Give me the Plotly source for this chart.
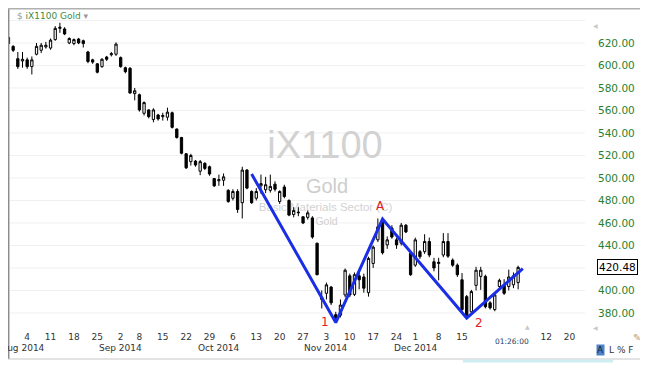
import pandas as pd
import plotly.graph_objects as go

# ---------------- data ----------------
HOLIDAYS = ["2014-09-01", "2014-11-27", "2014-12-25", "2015-01-01", "2015-01-19"]
SESSIONS = [d.strftime("%Y-%m-%d") for d in pd.bdate_range("2014-07-28", "2015-01-23")
            if d.strftime("%Y-%m-%d") not in HOLIDAYS]
FIRST_BAR = "2014-07-29"

OPEN = [625, 617, 606, 604, 605, 599, 610, 613.5, 616.5, 615.5,
        623, 633, 632.5, 620, 619.5, 623.5, 622, 612, 605, 601.5,
        599, 607.5, 609.5, 610, 607, 598, 597.5, 575, 574, 557.5,
        560.5, 552, 556, 554.5, 554, 558, 543.5, 536, 521.5, 514.5,
        515, 506, 513, 510, 499.5, 497.5, 498, 489, 482, 488,
        478, 507, 488, 482, 493, 489.5, 489, 494.5, 479, 492,
        480, 467.5, 469, 465.5, 465, 464.5, 442, 392, 397.5, 403,
        378.5, 378, 396, 413, 396.5, 413, 412, 398, 424, 445,
        461, 440.5, 455.5, 445, 442, 458, 433, 422.5, 434.5, 434.5,
        443.5, 425.5, 424, 431.5, 443.5, 427, 422.5, 409.5, 394.5, 381,
        404.5, 412.5, 412.5, 389, 383, 403.5, 405, 403.5, 405, 407]
HIGH = [627, 618, 612, 612, 607, 608, 620, 620, 621, 624,
        635, 638, 634, 625, 624, 624.5, 623, 613, 606, 602,
        606.5, 608.5, 612, 620.5, 608, 599, 598.5, 580, 575, 568,
        561, 562, 557, 558, 562.5, 559, 544, 536.5, 522, 521.5,
        516, 516, 514, 511, 500, 503, 504, 490, 490, 490,
        510, 508, 489, 491, 503, 501, 503, 497, 489, 494,
        481, 474, 474, 466, 471, 466, 442.5, 400, 407, 404,
        381, 392, 419.5, 415, 416, 417, 415, 430, 440, 464,
        463, 448, 458, 447, 460, 459, 434, 447, 436, 450,
        447, 429, 429, 451, 451, 428.5, 424, 415.5, 396, 400.5,
        421, 421, 414, 390.5, 397.5, 410.5, 410, 418.5, 416, 422]
LOW = [618, 612, 597, 598, 597, 592, 609, 611, 615, 614,
       622, 629, 627, 619, 618, 619, 616, 602, 601.5, 593,
       598, 604, 608, 608.5, 598, 593, 575, 569, 559, 555.5,
       553, 549.5, 551, 551, 551, 544, 535, 521, 508, 511,
       510, 502.5, 507, 502, 492, 493, 493, 478, 480, 469,
       464, 490, 477, 480, 486, 486.5, 487, 488, 477, 482,
       466, 465, 466, 459, 463, 446, 413.5, 384, 392, 387,
       373.5, 376, 394, 394, 395, 401, 398, 394.5, 420, 443,
       432, 437, 446, 437, 440, 451, 413, 421, 428, 432.5,
       429.5, 417, 409, 429.5, 429, 421, 412, 381.5, 375, 379,
       400, 400.5, 384, 383, 381.5, 402, 396, 400, 402, 401]
CLOSE = [619.5, 613.5, 599, 605.5, 599, 605, 617, 618, 618, 622.5,
         633, 634, 628, 624, 623, 620, 619.5, 603.5, 603, 594,
         605.5, 605.5, 610.5, 619, 599, 594.5, 575.5, 577.5, 560.5, 567,
         554.5, 560.5, 552.5, 555.5, 558.5, 545, 536, 522, 509, 520,
         511.5, 514.5, 508.5, 503.5, 493, 498.5, 501, 479, 488, 472,
         507, 491, 478, 488, 495, 494, 492.5, 490, 488, 483.5,
         467, 471, 469.5, 460, 469, 447.5, 414, 394, 405, 389,
         375.5, 387, 418, 396, 414, 409.5, 402, 428.5, 438.5, 456.5,
         433.5, 445, 447.5, 440.5, 458, 452, 414, 445, 430, 443.5,
         431.5, 420, 425, 443.5, 430.5, 422.5, 414, 383, 377, 399,
         418, 418, 385.5, 384.5, 396, 409, 397.5, 412, 413, 420.48]
LAST_PRICE = 420.48

TICK_DATES = ["2014-08-04", "2014-08-11", "2014-08-18", "2014-08-25", "2014-09-02",
              "2014-09-08", "2014-09-15", "2014-09-22", "2014-09-29", "2014-10-06",
              "2014-10-13", "2014-10-20", "2014-10-27", "2014-11-03", "2014-11-10",
              "2014-11-17", "2014-11-24", "2014-12-01", "2014-12-08", "2014-12-15",
              "2015-01-12", "2015-01-20"]
TICK_TEXT = ["4", "11", "18", "25", "2", "8", "15", "22", "29", "6", "13", "20", "27",
             "3", "10", "17", "24", "1", "8", "15", "12", "20"]
MONTH_DATES = ["2014-08-01", "2014-09-02", "2014-10-01", "2014-11-03", "2014-12-01"]
MONTH_TEXT = ["Aug 2014", "Sep 2014", "Oct 2014", "Nov 2014", "Dec 2014"]

ZIG_DATES = ["2014-10-10", "2014-11-05", "2014-11-19", "2014-12-16", "2015-01-05"]
ZIG_PRICES = [503.5, 371.5, 463.5, 375.5, 419.5]
ZIG_LABELS = ["", "1", "A", "2", ""]

Y_TICKS = [380, 400, 440, 460, 480, 500, 520, 540, 560, 580, 600, 620]
Y_GRID = [380, 400, 420, 440, 460, 480, 500, 520, 540, 560, 580, 600, 620, 640]

WATERMARK = ["iX1100", "Gold", "Basic Materials Sector (C)", "Gold"]

# ---------------- helpers ----------------
def pos(d):
    return SESSIONS.index(d)

start = pos(FIRST_BAR)
bar_x = list(range(start, start + len(OPEN)))

# the page body has an 8px margin, so the figure starts at page (8, 8)
OFF = 8
W, H = 640, 364
PLOT_L, PLOT_R, PLOT_T, PLOT_B = 8, 585, 8, 326      # page pixels of the plot area
ML, MR, MT, MB = PLOT_L - OFF, OFF + W - PLOT_R, PLOT_T - OFF, OFF + H - PLOT_B
PW, PH = PLOT_R - PLOT_L, PLOT_B - PLOT_T


def px(p):
    return (p - PLOT_L) / PW


def py(p):
    return (PLOT_B - p) / PH


FONT = "DejaVu Sans"

fig = go.Figure()

# watermark (base subplot, drawn beneath the candles)
fig.add_trace(go.Scatter(
    x=[px(325), px(327), px(325.5), px(326.5)],
    y=[py(148), py(188), py(208), py(222.5)],
    mode="text", text=WATERMARK, textposition="middle center",
    textfont=dict(family="Liberation Sans", size=[38, 20, 11.5, 10.5],
                  color=["#d2d2d2", "#cdcdcd", "#d2d2d2", "#d0d0d0"]),
    hoverinfo="skip", showlegend=False, xaxis="x", yaxis="y"))

# candles
fig.add_trace(go.Candlestick(
    x=bar_x, open=OPEN, high=HIGH, low=LOW, close=CLOSE,
    increasing=dict(line=dict(color="#000000", width=1), fillcolor="#ffffff"),
    decreasing=dict(line=dict(color="#000000", width=1), fillcolor="#000000"),
    whiskerwidth=0, showlegend=False, xaxis="x2", yaxis="y2"))

# zigzag pattern
zx = [pos(d) for d in ZIG_DATES]
fig.add_trace(go.Scatter(
    x=zx, y=ZIG_PRICES, mode="lines",
    line=dict(color="#1a2ee6", width=3),
    hoverinfo="skip", showlegend=False, xaxis="x2", yaxis="y2"))

annotations = []
shifts = {"1": (-11, 1), "A": (-2, 13), "2": (12, -5)}
for xv, yv, lab in zip(zx, ZIG_PRICES, ZIG_LABELS):
    if lab:
        dx, dy = shifts[lab]
        annotations.append(dict(x=xv, y=yv, xref="x2", yref="y2", text=lab,
                                showarrow=False, xshift=dx, yshift=dy,
                                xanchor="center", yanchor="middle",
                                font=dict(family=FONT, size=12, color="#e31b23")))

for d, t in zip(MONTH_DATES, MONTH_TEXT):
    annotations.append(dict(x=pos(d), y=0, xref="x2", yref="paper", text=t,
                            showarrow=False, xanchor="center", yanchor="middle", yshift=-22,
                            font=dict(family=FONT, size=9, color="#333333")))


def page_note(x, y, text, size, color, xanchor="center", **kw):
    annotations.append(dict(x=px(x), y=py(y), xref="paper", yref="paper", text=text,
                            showarrow=False, xanchor=xanchor, yanchor="middle",
                            font=dict(family=FONT, size=size, color=color), **kw))


# title
page_note(15, 16,
          "<span style='color:#9a9a9a'>$</span> iX1100 Gold <span style='color:#9a9a9a'>▾</span>",
          9, "#3f8a3f", xanchor="left")

# last price box
annotations.append(dict(
    x=px(597), y=LAST_PRICE, xref="paper", yref="y2", xanchor="left", yanchor="middle",
    showarrow=False, text=f"{LAST_PRICE:.2f}", bgcolor="#ffffff",
    bordercolor="#000000", borderwidth=1, borderpad=1,
    font=dict(family=FONT, size=10.5, color="#000000")))

# countdown and small widgets
page_note(512, 341, "01:26:00", 7.5, "#23405e")
page_note(527, 326, "▲", 6, "#c8c8c8")
page_note(595, 327, "◀", 6, "#c8c8c8")
page_note(595, 26, "◀", 6, "#c8c8c8")
page_note(600.5, 350, "A", 9, "#13233d", bgcolor="#4d82c4", borderpad=0)
page_note(607, 350, "L % F", 9, "#333333", xanchor="left")
page_note(637, 337, "✎", 10, "#c9a36b")

shapes = [
    dict(type="line", xref="paper", yref="paper", x0=px(8.7), x1=px(8.7), y0=py(8), y1=py(359),
         line=dict(color="#8c8c8c", width=1.5)),
    dict(type="line", xref="paper", yref="paper", x0=px(8), x1=px(643), y0=py(8.7), y1=py(8.7),
         line=dict(color="#b0b0b0", width=1.5)),
    dict(type="line", xref="paper", yref="paper", x0=px(643), x1=px(643), y0=py(8), y1=py(359),
         line=dict(color="#9a9a9a", width=1.5)),
    dict(type="line", xref="paper", yref="paper", x0=px(8), x1=px(643), y0=py(359), y1=py(359),
         line=dict(color="#c8c8c8", width=1)),
    dict(type="rect", xref="paper", yref="paper", x0=px(463), x1=px(613), y0=py(359.5), y1=py(362.5),
         line=dict(width=0), fillcolor="#cdeef1"),
]

x_lo = pos("2014-08-04") - 4.1
x_hi = pos("2014-08-04") + 119.3

fig.update_layout(
    width=W, height=H, margin=dict(l=ML, r=MR, t=MT, b=MB),
    paper_bgcolor="#ffffff", plot_bgcolor="#ffffff",
    showlegend=False, annotations=annotations, shapes=shapes,
    xaxis=dict(range=[0, 1], visible=False, fixedrange=True, rangeslider=dict(visible=False)),
    yaxis=dict(range=[0, 1], visible=False, fixedrange=True),
    xaxis2=dict(overlaying="x", range=[x_lo, x_hi], showgrid=False, zeroline=False,
                tickmode="array", tickvals=[pos(d) for d in TICK_DATES], ticktext=TICK_TEXT,
                ticks="", showline=False, rangeslider=dict(visible=False),
                ticklabelstandoff=4,
                tickfont=dict(family=FONT, size=9, color="#333333")),
    yaxis2=dict(overlaying="y", side="right", range=[368.4, 651.1], showgrid=False,
                zeroline=False, tickmode="array", tickvals=Y_TICKS,
                ticktext=[f"{v:.2f}" for v in Y_TICKS], ticks="", showline=False,
                ticklabelstandoff=12,
                tickfont=dict(family=FONT, size=10.5, color="#2a7f2f")),
)

# faint horizontal gridlines
for g in Y_GRID:
    fig.add_shape(type="line", xref="paper", yref="y2", x0=0, x1=1, y0=g, y1=g,
                  line=dict(color="#f0f0f0", width=1), layer="below")

fig.write_html("out.html")
